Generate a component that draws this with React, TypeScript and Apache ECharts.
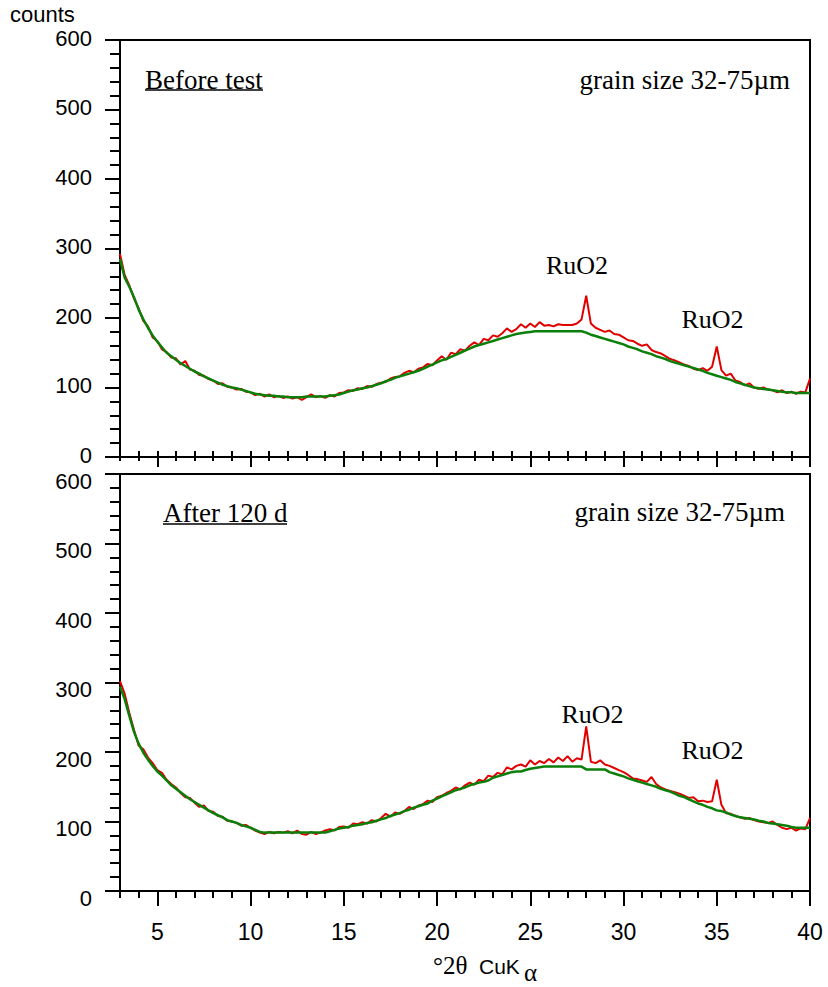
import React, { useEffect, useRef } from "react";
import * as echarts from "echarts";

// ---- data -----------------------------------------------------------------
// Diffractograms sampled every 0.25 °2θ starting at 3 °2θ (one row per degree)
const ANGLE_START = 3;
const ANGLE_STEP = 0.25;

const TOP_MEASURED = [
  292, 262, 247, 228, // 3
  214, 196, 188, 172, // 4
  167, 155, 151, 143, // 5
  142, 133, 138, 126, // 6
  124, 118, 117, 112, // 7
  110, 105, 106, 101, // 8
  100, 97, 98, 94, // 9
  93, 89, 91, 87, // 10
  90, 86, 88, 85, // 11
  87, 84, 86, 82, // 12
  86, 90, 86, 88, // 13
  85, 89, 87, 92, // 14
  93, 96, 95, 99, // 15
  98, 102, 101, 105, // 16
  107, 108, 113, 115, // 17
  116, 121, 124, 122, // 18
  127, 129, 134, 132, // 19
  139, 145, 140, 150, // 20
  148, 155, 153, 160, // 21
  165, 161, 170, 168, // 22
  175, 173, 178, 185, // 23
  180, 184, 191, 186, // 24
  192, 187, 194, 189, // 25
  190, 188, 191, 190, // 26
  190, 190, 192, 198, // 27
  232, 192, 186, 183, // 28
  180, 182, 177, 176, // 29
  172, 168, 167, 163, // 30
  160, 162, 154, 151, // 31
  149, 145, 141, 139, // 32
  136, 133, 131, 127, // 33
  125, 128, 124, 130, // 34
  159, 125, 117, 120, // 35
  110, 108, 103, 106, // 36
  100, 98, 100, 97, // 37
  96, 93, 96, 92, // 38
  94, 91, 94, 93, // 39
  113, // 40
];

const TOP_BACKGROUND = [
  285, 258, 245, 230, // 3
  212, 198, 186, 175, // 4
  166, 158, 150, 145, // 5
  140, 135, 131, 127, // 6
  123, 120, 116, 113, // 7
  110, 107, 104, 102, // 8
  100, 99, 97, 95, // 9
  93, 91, 90, 89, // 10
  88, 88, 87, 87, // 11
  86, 86, 86, 86, // 12
  87, 87, 87, 87, // 13
  87, 88, 89, 90, // 14
  92, 94, 96, 97, // 15
  99, 100, 102, 104, // 16
  106, 109, 111, 114, // 17
  116, 118, 120, 122, // 18
  124, 127, 130, 133, // 19
  136, 139, 141, 144, // 20
  147, 150, 153, 156, // 21
  159, 161, 163, 165, // 22
  167, 169, 171, 173, // 23
  175, 177, 178, 179, // 24
  180, 181, 181, 181, // 25
  181, 181, 181, 181, // 26
  181, 181, 181, 181, // 27
  179, 176, 174, 172, // 28
  170, 168, 166, 164, // 29
  162, 159, 157, 155, // 30
  152, 150, 148, 145, // 31
  143, 141, 138, 136, // 32
  134, 132, 130, 128, // 33
  126, 124, 121, 119, // 34
  117, 115, 113, 111, // 35
  108, 106, 104, 102, // 36
  100, 99, 98, 97, // 37
  96, 95, 94, 93, // 38
  93, 92, 92, 92, // 39
  92, // 40
];

const BOTTOM_MEASURED = [
  302, 284, 256, 232, // 3
  209, 204, 192, 184, // 4
  174, 170, 160, 154, // 5
  149, 141, 135, 134, // 6
  127, 121, 123, 115, // 7
  114, 108, 107, 101, // 8
  100, 98, 94, 95, // 9
  91, 87, 84, 82, // 10
  85, 83, 85, 84, // 11
  86, 83, 87, 82, // 12
  81, 85, 82, 84, // 13
  87, 89, 87, 92, // 14
  93, 91, 97, 96, // 15
  99, 97, 102, 100, // 16
  105, 111, 107, 113, // 17
  111, 115, 121, 118, // 18
  123, 125, 130, 128, // 19
  135, 137, 141, 144, // 20
  149, 146, 152, 156, // 21
  153, 160, 158, 166, // 22
  164, 170, 168, 178, // 23
  175, 180, 182, 179, // 24
  188, 182, 187, 184, // 25
  190, 185, 192, 187, // 26
  194, 186, 191, 189, // 27
  237, 186, 184, 188, // 28
  182, 180, 177, 174, // 29
  171, 167, 162, 161, // 30
  159, 157, 164, 154, // 31
  149, 146, 144, 142, // 32
  140, 137, 134, 135, // 33
  129, 130, 128, 129, // 34
  160, 124, 112, 111, // 35
  108, 106, 104, 105, // 36
  102, 100, 99, 98, // 37
  100, 95, 91, 89, // 38
  91, 87, 90, 89, // 39
  105, // 40
];

const BOTTOM_BACKGROUND = [
  294, 276, 252, 229, // 3
  212, 199, 189, 180, // 4
  172, 166, 159, 152, // 5
  147, 142, 137, 132, // 6
  128, 124, 120, 116, // 7
  112, 109, 106, 102, // 8
  100, 98, 95, 93, // 9
  91, 88, 85, 84, // 10
  84, 84, 84, 84, // 11
  84, 84, 84, 84, // 12
  84, 84, 84, 84, // 13
  84, 86, 88, 90, // 14
  91, 92, 94, 95, // 15
  96, 98, 99, 101, // 16
  103, 105, 108, 110, // 17
  112, 115, 117, 120, // 18
  122, 124, 126, 130, // 19
  133, 136, 139, 142, // 20
  145, 147, 149, 152, // 21
  154, 156, 157, 159, // 22
  163, 165, 167, 169, // 23
  171, 172, 172, 174, // 24
  176, 177, 178, 179, // 25
  179, 179, 179, 179, // 26
  179, 179, 179, 179, // 27
  175, 175, 175, 175, // 28
  175, 171, 169, 167, // 29
  165, 162, 160, 158, // 30
  156, 154, 152, 150, // 31
  147, 145, 143, 140, // 32
  137, 135, 132, 129, // 33
  126, 124, 121, 119, // 34
  116, 115, 113, 110, // 35
  108, 106, 105, 104, // 36
  103, 101, 100, 98, // 37
  97, 96, 95, 94, // 38
  92, 91, 91, 91, // 39
  91, // 40
];

const X_MAJOR_TICKS = [5, 10, 15, 20, 25, 30, 35, 40];
const X_MINOR_TICKS = [
  3, 4, 5, 6, 7, 8, 9, 10, 11, 12, 13, 14, 15, 16, 17, 18, 19, 20, 21,
  22, 23, 24, 25, 26, 27, 28, 29, 30, 31, 32, 33, 34, 35, 36, 37, 38, 39, 40,
];
const Y_MIN = 0;
const Y_MAX = 600;
const Y_INTERVAL = 100;

const PANEL_TITLES = ["Before test", "After 120 d"];
const GRAIN_LABEL = "grain size 32-75\u00b5m";
const PEAK_LABEL = "RuO2";

// ---- styling ------------------------------------------------------------------
const SANS = "'Liberation Sans', Arial, sans-serif";
const SERIF = "'Liberation Serif', 'Times New Roman', serif";
const RED = "#e00000";
const GREEN = "#0a800a";
const BLACK = "#000";
const TICK_FONT = 22;

const toPairs = (vals: number[]) =>
  vals.map((v, i) => [ANGLE_START + i * ANGLE_STEP, v]);

function buildOption() {
  const gridCommon = {
    left: 120,
    width: 690,
    height: 417,
    show: true,
    borderColor: BLACK,
    borderWidth: 2,
    backgroundColor: "transparent",
  };
  const lineStyle = { color: BLACK, width: 2 };

  const xBase = (grid: number) => ({
    gridIndex: grid,
    type: "value",
    position: "bottom",
    offset: 0,
    min: 3,
    max: 40,
    splitLine: { show: false },
    axisLabel: { show: false },
  });

  // shift > 0 moves the tick labels down, < 0 moves them up (in px)
  const yAxis = (grid: number, shift: number) => ({
    gridIndex: grid,
    type: "value",
    min: Y_MIN,
    max: Y_MAX,
    interval: Y_INTERVAL,
    axisLine: { show: true, lineStyle },
    axisTick: { show: true, length: 15, lineStyle },
    minorTick: { show: true, splitNumber: 5, length: 10, lineStyle },
    splitLine: { show: false },
    minorSplitLine: { show: false },
    axisLabel: {
      color: BLACK,
      margin: 28,
      formatter: "{v|{value}}",
      rich: {
        v: {
          fontSize: TICK_FONT,
          fontFamily: SANS,
          color: BLACK,
          lineHeight: TICK_FONT + 2 * Math.abs(shift),
          verticalAlign: shift >= 0 ? "bottom" : "top",
        },
      },
    },
  });

  const serifText = (
    text: string,
    x: number,
    y: number,
    size: number,
    align: string
  ) => ({
    type: "text",
    x,
    y,
    silent: true,
    style: {
      text,
      fill: BLACK,
      fontSize: size,
      fontFamily: SERIF,
      align,
      verticalAlign: "middle",
    },
  });

  return {
    animation: false,
    backgroundColor: "#fff",
    grid: [
      { ...gridCommon, top: 40 },
      { ...gridCommon, top: 474 },
    ],
    xAxis: [
      // top panel: integer ticks pointing inward, with the axis line
      {
        ...xBase(0),
        axisLine: { show: true, lineStyle },
        axisTick: {
          show: true,
          inside: true,
          length: 6,
          customValues: X_MINOR_TICKS,
          lineStyle,
        },
      },
      // top panel: integer ticks pointing outward
      {
        ...xBase(0),
        axisLine: { show: false },
        axisTick: {
          show: true,
          length: 4,
          customValues: X_MINOR_TICKS,
          lineStyle,
        },
      },
      // top panel: major ticks outward
      {
        ...xBase(0),
        axisLine: { show: false },
        axisTick: {
          show: true,
          length: 10,
          customValues: X_MAJOR_TICKS,
          lineStyle,
        },
      },
      // bottom panel: integer ticks + labels
      {
        ...xBase(1),
        axisLine: { show: true, lineStyle },
        axisTick: {
          show: true,
          length: 7,
          customValues: X_MINOR_TICKS,
          lineStyle,
        },
        axisLabel: {
          show: true,
          customValues: X_MAJOR_TICKS,
          fontSize: 23,
          color: BLACK,
          fontFamily: SANS,
          margin: 29,
        },
      },
      // bottom panel: major ticks
      {
        ...xBase(1),
        axisLine: { show: false },
        axisTick: {
          show: true,
          length: 15,
          customValues: X_MAJOR_TICKS,
          lineStyle,
        },
      },
    ],
    yAxis: [yAxis(0, -2), yAxis(1, 7)],
    series: [
      {
        name: "before measured",
        type: "line",
        xAxisIndex: 0,
        yAxisIndex: 0,
        data: toPairs(TOP_MEASURED),
        showSymbol: false,
        lineStyle: { color: RED, width: 2 },
        itemStyle: { color: RED },
        z: 2,
      },
      {
        name: "before background",
        type: "line",
        xAxisIndex: 0,
        yAxisIndex: 0,
        data: toPairs(TOP_BACKGROUND),
        showSymbol: false,
        lineStyle: { color: GREEN, width: 2.5 },
        itemStyle: { color: GREEN },
        z: 3,
      },
      {
        name: "after measured",
        type: "line",
        xAxisIndex: 3,
        yAxisIndex: 1,
        data: toPairs(BOTTOM_MEASURED),
        showSymbol: false,
        lineStyle: { color: RED, width: 2 },
        itemStyle: { color: RED },
        z: 2,
      },
      {
        name: "after background",
        type: "line",
        xAxisIndex: 3,
        yAxisIndex: 1,
        data: toPairs(BOTTOM_BACKGROUND),
        showSymbol: false,
        lineStyle: { color: GREEN, width: 2.5 },
        itemStyle: { color: GREEN },
        z: 3,
      },
    ],
    graphic: [
      {
        type: "text",
        x: 10,
        y: 14,
        silent: true,
        style: {
          text: "counts",
          fill: BLACK,
          fontSize: 22,
          fontFamily: SANS,
          align: "left",
          verticalAlign: "middle",
        },
      },
      // top panel annotations
      serifText(PANEL_TITLES[0], 145, 79.5, 27, "left"),
      {
        type: "line",
        silent: true,
        shape: { x1: 145, y1: 90, x2: 263, y2: 90 },
        style: { stroke: BLACK, lineWidth: 1.5 },
      },
      serifText(GRAIN_LABEL, 790, 79.5, 27, "right"),
      serifText(PEAK_LABEL, 577, 265.5, 26, "center"),
      serifText(PEAK_LABEL, 712.5, 319, 26, "center"),
      // bottom panel annotations
      serifText(PANEL_TITLES[1], 163, 513, 27, "left"),
      {
        type: "line",
        silent: true,
        shape: { x1: 163, y1: 524, x2: 287, y2: 524 },
        style: { stroke: BLACK, lineWidth: 1.5 },
      },
      serifText(GRAIN_LABEL, 785, 511.5, 27, "right"),
      serifText(PEAK_LABEL, 592.5, 714, 26, "center"),
      serifText(PEAK_LABEL, 712.5, 750.5, 26, "center"),
      // x axis title: °2θ CuKα
      serifText("\u00b02\u03b8", 433, 965, 25, "left"),
      {
        type: "text",
        x: 479,
        y: 966,
        silent: true,
        style: {
          text: "CuK",
          fill: BLACK,
          fontSize: 21,
          fontFamily: SANS,
          align: "left",
          verticalAlign: "middle",
        },
      },
      serifText("\u03b1", 524, 972.5, 25, "left"),
    ],
  };
}

export default function App() {
  const ref = useRef<HTMLDivElement>(null);

  useEffect(() => {
    if (!ref.current) return;
    const chart = echarts.init(ref.current, undefined, { renderer: "svg" });
    chart.setOption(buildOption() as any);
    return () => chart.dispose();
  }, []);

  return (
    <div
      ref={ref}
      style={{
        position: "absolute",
        left: 0,
        top: 0,
        width: 828,
        height: 987,
        background: "#fff",
      }}
    />
  );
}
